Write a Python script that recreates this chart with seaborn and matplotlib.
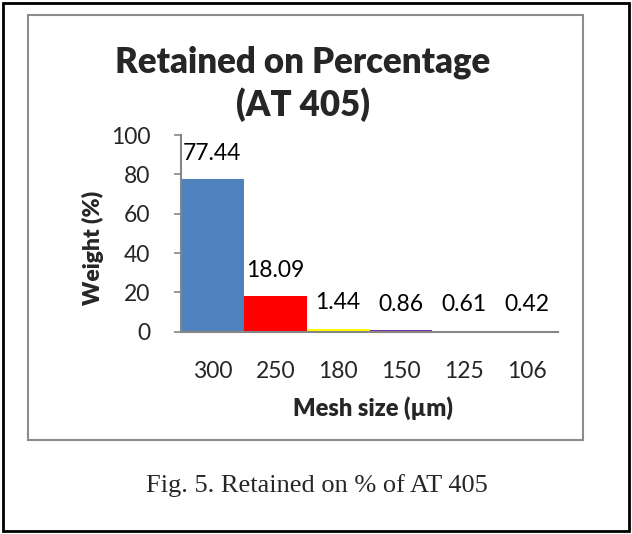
import matplotlib
matplotlib.use("Agg")
import matplotlib.pyplot as plt
import seaborn as sns
import pandas as pd
from matplotlib.patches import Rectangle

mesh_sizes = ["300", "250", "180", "150", "125", "106"]
weights = [77.44, 18.09, 1.44, 0.86, 0.61, 0.42]
value_labels = ["77.44", "18.09", "1.44", "0.86", "0.61", "0.42"]
bar_colors = ["#4F81BD", "#FF0000", "#FFFF00", "#7030A0", "#77938C", "#8C8C8C"]
y_ticks = [0, 20, 40, 60, 80, 100]

sns.set_theme(style="white")
plt.rcParams["font.family"] = ["Lato", "DejaVu Sans"]

W, H = 632, 534
fig = plt.figure(figsize=(W / 100, H / 100), dpi=100)
fig.patch.set_facecolor("white")

# outer black border and inner gray chart-area border
fig.add_artist(Rectangle((3 / W, 3 / H), 626 / W, 528 / H, transform=fig.transFigure,
                         fill=False, edgecolor="black", linewidth=2))
fig.add_artist(Rectangle((28 / W, 1 - 440 / H), 555 / W, 425 / H, transform=fig.transFigure,
                         fill=False, edgecolor="#8C8C8C", linewidth=1.5))

ax = fig.add_axes([181 / W, 1 - 331.7 / H, 377 / W, 196.7 / H])

df = pd.DataFrame({"mesh": mesh_sizes, "weight": weights})
sns.barplot(data=df, x="mesh", y="weight", hue="mesh", palette=bar_colors,
            width=1.0, dodge=False, legend=False, ax=ax, saturation=1.0,
            edgecolor="none", linewidth=0)

ax.set_ylim(0, 100)
ax.set_xlim(-0.5, len(mesh_sizes) - 0.5)
ax.set_yticks(y_ticks)
ax.set_yticklabels([str(t) for t in y_ticks], fontsize=16.5)
ax.set_xticks(range(len(mesh_sizes)))
ax.set_xticklabels(mesh_sizes, fontsize=16.5)

for s in ["top", "right"]:
    ax.spines[s].set_visible(False)
for s in ["left", "bottom"]:
    ax.spines[s].set_color("#868686")
    ax.spines[s].set_linewidth(1.5)

ax.tick_params(axis="y", direction="out", length=5, width=1.2, color="#868686", pad=17, left=True)
ax.tick_params(axis="x", length=0, pad=21)

for i, (v, lab) in enumerate(zip(weights, value_labels)):
    ax.annotate(lab, xy=(i, v), xytext=(0, 26), textcoords="offset pixels",
                ha="center", va="center", fontsize=16.5, color="black")

ax.set_xlabel("")
ax.set_ylabel("")

fig.text(303 / W, 1 - 62 / H, "Retained on Percentage", ha="center", va="center",
         fontsize=25, fontweight="heavy")
fig.text(303 / W, 1 - 105 / H, "(AT 405)", ha="center", va="center",
         fontsize=25, fontweight="heavy")
fig.text(93 / W, 1 - 248 / H, "Weight (%)", ha="center", va="center", rotation=90,
         fontsize=16.5, fontweight="heavy")
fig.text(373 / W, 1 - 408 / H, "Mesh size (µm)", ha="center", va="center",
         fontsize=17, fontweight="heavy")
fig.text(317 / W, 1 - 486 / H, "Fig. 5. Retained on % of AT 405", ha="center", va="center",
         fontsize=19, family=["Liberation Serif", "DejaVu Serif"])

fig.savefig("out.png", dpi=100)
